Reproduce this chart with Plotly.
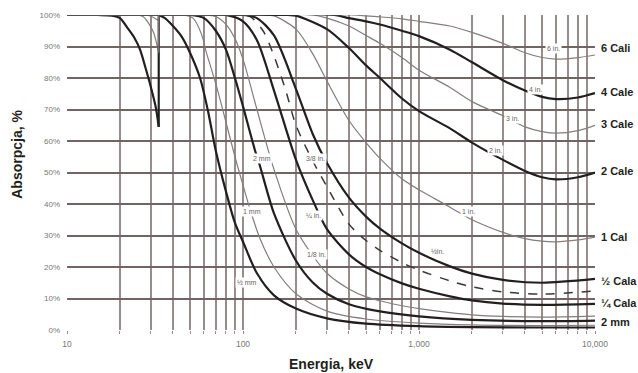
import math
import plotly.graph_objects as go

# ---------------- data ----------------
# pre-K-edge parts (below 33.2 keV)
e_pre_halfmm = [10, 15, 18, 20, 22, 24, 26, 28, 30, 32, 33.2]
a_pre_halfmm = [100, 100, 99.8, 99, 96, 93, 89, 83, 77, 70.5, 64.5]
e_pre_1mm = [10, 25, 27, 29, 31, 33.2]
a_pre_1mm = [100, 100, 99.5, 97.5, 94.5, 88]
e_pre_2mm = [10, 28, 30, 33.2]
a_pre_2mm = [100, 100, 99.6, 98.2]

e_halfmm = [33.2, 36, 40, 45, 50, 57, 63, 70, 80, 90, 100, 120, 150, 200, 300, 500, 1000, 2000, 5000, 10000]
a_halfmm = [100, 99, 96.5, 93, 88, 80, 70, 57, 44, 34, 28, 18, 11, 6.8, 3.7, 2.0, 1.2, 0.9, 0.8, 0.8]
e_1mm = [33.2, 45, 52, 58, 62, 66, 71, 80, 90, 100, 110, 125, 150, 200, 300, 500, 1000, 2000, 5000, 10000]
a_1mm = [100, 100, 99, 94, 88, 83, 77, 66, 55, 46, 38, 29, 20, 11.5, 6, 3.5, 2.2, 1.6, 1.4, 1.5]
e_2mm = [33.2, 50, 60, 70, 80, 90, 100, 117, 125, 150, 200, 250, 300, 400, 600, 1000, 2000, 5000, 10000]
a_2mm = [100, 100, 99, 95, 89, 80, 71, 57, 52, 37, 22, 15, 11.5, 8.2, 5.9, 4.3, 3.2, 2.8, 3.0]
e_eighth = [10, 60, 70, 80, 90, 100, 120, 150, 200, 250, 300, 400, 500, 600, 800, 1000, 1500, 2000, 3000, 5000, 10000]
a_eighth = [100, 100, 99.5, 97, 92.5, 86, 70, 51, 32, 23.5, 18, 13, 10.5, 9.3, 7.7, 6.8, 5.5, 4.8, 4.3, 4.1, 4.4]
e_quarter = [10, 80, 100, 120, 150, 200, 250, 300, 400, 500, 600, 800, 1000, 1500, 2000, 3000, 5000, 10000]
a_quarter = [100, 100, 98, 92, 76, 54, 41, 32, 24, 20, 17.7, 14.8, 13.1, 10.7, 9.4, 8.4, 8.0, 8.3]
e_3eighth = [10, 100, 110, 130, 150, 175, 200, 250, 300, 400, 500, 600, 800, 1000, 1500, 2000, 3000, 5000, 10000]
a_3eighth = [100, 100, 99.5, 95, 87, 76, 65, 53.5, 45.5, 33.6, 28.4, 25.3, 21.4, 19, 15.6, 13.7, 12.1, 11.4, 12.4]
e_half = [10, 100, 120, 150, 200, 250, 300, 400, 500, 600, 800, 1000, 1500, 2000, 3000, 5000, 10000]
a_half = [100, 100, 99, 93.5, 76.5, 62, 53, 42, 36, 32.2, 27.5, 24.5, 20.2, 17.9, 15.9, 15.0, 16.2]
e_1in = [10, 130, 150, 200, 250, 300, 400, 500, 600, 800, 1000, 1500, 2000, 3000, 4000, 5000, 6000, 8000, 10000]
a_1in = [100, 100, 99.7, 95.5, 87.5, 79, 66.5, 59.5, 54.5, 48, 44.5, 39, 35, 31, 29, 28.2, 28, 28.6, 29.5]
e_2in = [10, 180, 200, 300, 400, 500, 600, 800, 1000, 1500, 2000, 3000, 4000, 5000, 6000, 8000, 10000]
a_2in = [100, 100, 99.8, 95.5, 89.5, 84, 80, 73.5, 69.5, 64, 59.5, 54, 50.5, 48.5, 47.8, 48.5, 50]
e_3in = [10, 250, 300, 400, 500, 600, 800, 1000, 1500, 2000, 3000, 4000, 5000, 6000, 8000, 10000]
a_3in = [100, 100, 99, 96.5, 93.5, 91, 86.5, 82.5, 77, 72.5, 68, 64.5, 63, 62.5, 63.3, 65]
e_4in = [10, 330, 400, 500, 600, 800, 1000, 1500, 2000, 3000, 4000, 5000, 6000, 8000, 10000]
a_4in = [100, 100, 99, 98, 97, 95, 93.3, 89, 85, 79.3, 76, 74, 73.3, 73.8, 75.2]
e_6in = [10, 420, 500, 600, 800, 1000, 1500, 2000, 3000, 4000, 5000, 6000, 8000, 10000]
a_6in = [100, 100, 99.7, 99.4, 98.8, 98, 96.5, 94.5, 91, 88, 86.5, 86, 86.5, 87.3]

# in-plot curve labels: text, energy (keV), absorption (%)
in_labels = ["½ mm", "1 mm", "2 mm", "3/8 in.", "¼ in.", "1/8 in.", "½in.", "1 in.", "2 in.", "3 in.", "4 in.", "6 in."]
in_label_e = [105, 112, 128, 257, 250, 262, 1280, 1900, 2720, 3400, 4600, 5800]
in_label_a = [15, 37.5, 54.6, 54.3, 36.5, 24, 24.8, 37.5, 57, 67.3, 76.2, 89.5]

# right-side labels
right_labels = ["6 Cali", "4 Cale", "3 Cale", "2 Cale", "1 Cal", "½ Cala", "¼ Cala", "2 mm"]
right_label_a = [89.5, 75.5, 65.5, 50.5, 29.5, 15.5, 8.5, 2.7]

y_ticks = [0, 10, 20, 30, 40, 50, 60, 70, 80, 90, 100]
y_tick_text = [f"{v}%" for v in y_ticks]
x_ticks = [10, 100, 1000, 10000]
x_tick_text = ["10", "100", "1,000", "10,000"]
x_minor = [20, 30, 40, 50, 60, 70, 80, 90, 200, 300, 400, 500, 600, 700, 800, 900,
           2000, 3000, 4000, 5000, 6000, 7000, 8000, 9000]
light_grid_y = [40]

THICK = dict(color="#231f20", width=2.2)
THIN = dict(color="#857c7c", width=1.2)
DASH = dict(color="#3c3737", width=1.5, dash="dash")

series = [
    (e_pre_halfmm, a_pre_halfmm, THICK),
    (e_pre_1mm, a_pre_1mm, THIN),
    (e_pre_2mm, a_pre_2mm, THIN),
    (e_halfmm, a_halfmm, THICK),
    (e_1mm, a_1mm, THIN),
    (e_2mm, a_2mm, THICK),
    (e_eighth, a_eighth, THIN),
    (e_quarter, a_quarter, THICK),
    (e_3eighth, a_3eighth, DASH),
    (e_half, a_half, THICK),
    (e_1in, a_1in, THIN),
    (e_2in, a_2in, THICK),
    (e_3in, a_3in, THIN),
    (e_4in, a_4in, THICK),
    (e_6in, a_6in, THIN),
]

fig = go.Figure()
for ex, ay, style in series:
    fig.add_trace(go.Scatter(x=ex, y=ay, mode="lines", line=dict(shape="spline", smoothing=0.8, **style),
                             hoverinfo="skip", showlegend=False))

# K-edge jumps (vertical)
for pre_e, pre_a, style in [(e_pre_halfmm, a_pre_halfmm, THICK), (e_pre_1mm, a_pre_1mm, THIN)]:
    fig.add_trace(go.Scatter(x=[pre_e[-1], pre_e[-1]], y=[pre_a[-1], 100], mode="lines",
                             line=dict(**style), hoverinfo="skip", showlegend=False))

for t, e, a in zip(in_labels, in_label_e, in_label_a):
    fig.add_annotation(x=math.log10(e), y=a, xref="x", yref="y", text=t, showarrow=False,
                       font=dict(family="Liberation Sans Narrow, Liberation Sans, Arial", size=7, color="#666"),
                       bgcolor="white", borderpad=1)

for t, a in zip(right_labels, right_label_a):
    fig.add_annotation(x=1.0085, y=a, xref="paper", yref="y", text=f"<b>{t}</b>", showarrow=False,
                       xanchor="left", font=dict(family="Liberation Sans, Arial", size=11, color="#231f20"))

fig.add_annotation(x=-0.095, y=0.559, xref="paper", yref="paper", text="<b>Absorpcja, %</b>", textangle=-90,
                   xanchor="center", yanchor="middle",
                   showarrow=False, font=dict(family="Liberation Sans, Arial", size=14, color="#231f20"))
fig.add_annotation(x=0.5, y=-0.107, xref="paper", yref="paper", text="<b>Energia, keV</b>",
                   xanchor="center", yanchor="middle",
                   showarrow=False, font=dict(family="Liberation Sans, Arial", size=14, color="#231f20"))

GRID_V = "#978d8d"
GRID_H = "#6f6565"
for yv in light_grid_y:
    fig.add_hline(y=yv, line=dict(color="#c9c2c2", width=1.6), layer="below")

fig.update_xaxes(type="log", range=[1, 4], tickvals=x_ticks, ticktext=x_tick_text,
                 showgrid=True, gridcolor=GRID_V, gridwidth=1.5,
                 minor=dict(tickvals=x_minor, showgrid=True, gridcolor=GRID_V, gridwidth=1.5,
                            ticks="outside", ticklen=3, tickcolor=GRID_V),
                 ticks="outside", ticklen=3, tickcolor=GRID_V, ticklabelstandoff=3,
                 tickfont=dict(family="Liberation Sans, Arial", size=8.5, color="#777"),
                 showline=False, zeroline=False)
fig.update_yaxes(range=[0, 100], tickvals=y_ticks, ticktext=y_tick_text,
                 showgrid=True, gridcolor=GRID_H, gridwidth=1.5,
                 ticks="", ticklabelstandoff=6,
                 tickfont=dict(family="Liberation Sans, Arial", size=8, color="#777"),
                 showline=False, zeroline=False)

fig.update_layout(width=638, height=373, margin=dict(l=67, r=43, t=15, b=43),
                  plot_bgcolor="white", paper_bgcolor="white")

fig.write_html("out.html")
